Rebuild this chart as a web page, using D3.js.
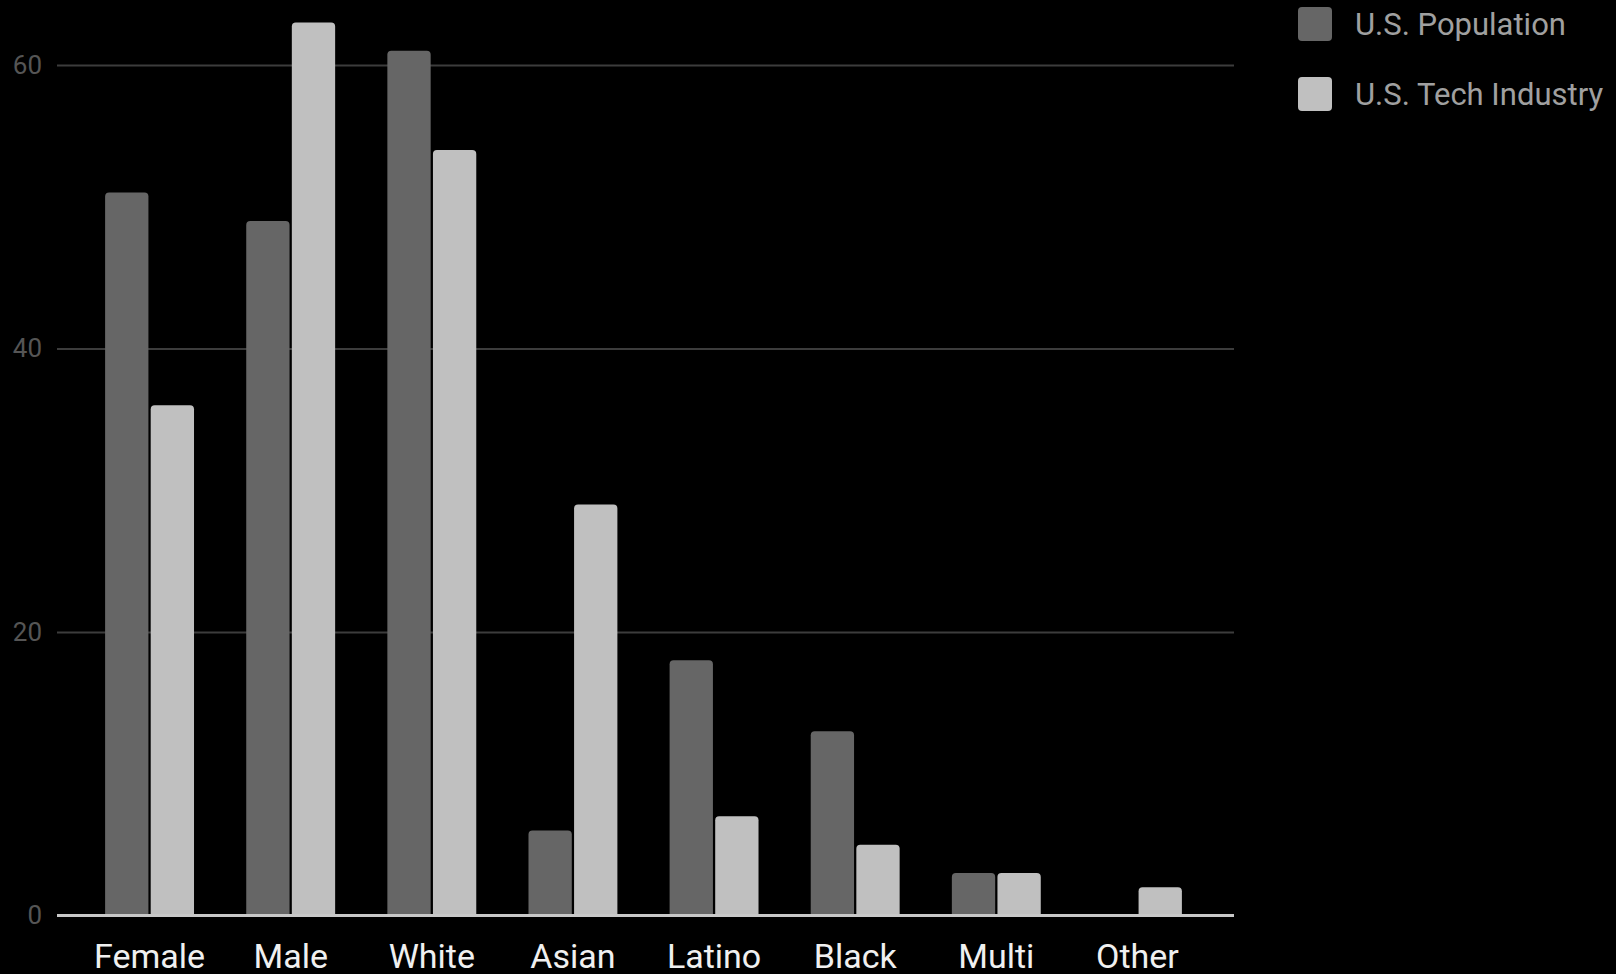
<!DOCTYPE html>
<html>
<head>
<meta charset="utf-8">
<script src="https://cdn.jsdelivr.net/npm/d3@7"></script>
<style>
  body { margin: 0; background: #000; }
  svg { display: block; font-family: Roboto, "Noto Sans", sans-serif; }
</style>
</head>
<body>
<svg class="chart"></svg>
<script>
var categories = ["Female", "Male", "White", "Asian", "Latino", "Black", "Multi", "Other"];
var seriesNames = ["U.S. Population", "U.S. Tech Industry"];
var population = [51, 49, 61, 6, 18, 13, 3, 0];
var techIndustry = [36, 63, 54, 29, 7, 5, 3, 2];
var yTicks = [0, 20, 40, 60];

var colors = ["#666666", "#c0c0c0"];

var width = 1616,
    height = 974;

var chart = d3.select(".chart")
    .attr("width", width)
    .attr("height", height);

var data = categories.map(function (c, i) {
    return { cat: c, values: [population[i], techIndustry[i]] };
});

var y = d3.scaleLinear()
    .domain([0, 60])
    .range([915.5, 65]);

// outer band for categories, inner band for the two series
var x0 = d3.scaleBand()
    .domain(categories)
    .range([79, 1208])
    .paddingInner(0.37)
    .paddingOuter(0.185);

var x1 = d3.scaleBand()
    .domain([0, 1])
    .range([0, x0.bandwidth()])
    .paddingInner(0.05);

// gridlines
var grid = d3.axisRight(y)
    .tickValues(yTicks.slice(1))
    .tickFormat("")
    .tickSize(1234 - 57);

chart.append("g")
    .attr("class", "grid")
    .attr("transform", "translate(57,0)")
    .call(grid)
    .call(function (g) {
        g.select(".domain").remove();
        g.selectAll("line").style("stroke", "#3c3c3c").style("stroke-width", 2);
    });

// y labels
var yAxis = d3.axisLeft(y)
    .tickValues(yTicks)
    .tickSize(0)
    .tickPadding(0);

chart.append("g")
    .attr("class", "yAxis")
    .attr("transform", "translate(42,0)")
    .call(yAxis)
    .call(function (g) {
        g.select(".domain").remove();
        g.selectAll("text")
            .style("fill", "#555")
            .style("font-size", "26px")
            .style("font-family", "Roboto, sans-serif");
    });

// rounded-top bar
function barPath(x, yTop, w, yBase, r) {
    var h = yBase - yTop;
    if (h <= 0) return "";
    r = Math.min(r, h, w / 2);
    return "M" + x + "," + yBase +
        "V" + (yTop + r) +
        "Q" + x + "," + yTop + " " + (x + r) + "," + yTop +
        "H" + (x + w - r) +
        "Q" + (x + w) + "," + yTop + " " + (x + w) + "," + (yTop + r) +
        "V" + yBase + "Z";
}

var groups = chart.selectAll(".group")
    .data(data)
    .enter()
    .append("g")
    .attr("class", "group")
    .attr("transform", function (d) { return "translate(" + x0(d.cat) + ",0)"; });

groups.selectAll(".bar")
    .data(function (d) { return d.values.map(function (v, i) { return { i: i, v: v }; }); })
    .enter()
    .append("path")
    .attr("class", "bar")
    .style("fill", function (d) { return colors[d.i]; })
    .attr("d", function (d) {
        return barPath(x1(d.i), y(d.v), x1.bandwidth(), y(0), 4);
    });

// baseline
chart.append("line")
    .attr("x1", 57)
    .attr("x2", 1234)
    .attr("y1", y(0))
    .attr("y2", y(0))
    .style("stroke", "#c8c8c8")
    .style("stroke-width", 3);

// x labels
var xAxis = d3.axisBottom(x0)
    .tickSize(0)
    .tickPadding(0);

chart.append("g")
    .attr("class", "xAxis")
    .attr("transform", "translate(0,956)")
    .call(xAxis)
    .call(function (g) {
        g.select(".domain").remove();
        g.selectAll("text")
            .attr("dy", "0.35em")
            .style("fill", "#f0f0f0")
            .style("font-size", "34px")
            .style("font-family", "Roboto, sans-serif");
    });

// legend
var legend = chart.selectAll(".legend")
    .data(seriesNames)
    .enter()
    .append("g")
    .attr("class", "legend")
    .attr("transform", function (d, i) { return "translate(1298," + (7 + i * 70) + ")"; });

legend.append("rect")
    .attr("width", 34)
    .attr("height", 34)
    .attr("rx", 4)
    .style("fill", function (d, i) { return colors[i]; });

legend.append("text")
    .attr("x", 57)
    .attr("y", 17)
    .attr("dy", "0.35em")
    .style("fill", "#a0a0a0")
    .style("font-size", "31px")
    .text(function (d) { return d; });
</script>
</body>
</html>
